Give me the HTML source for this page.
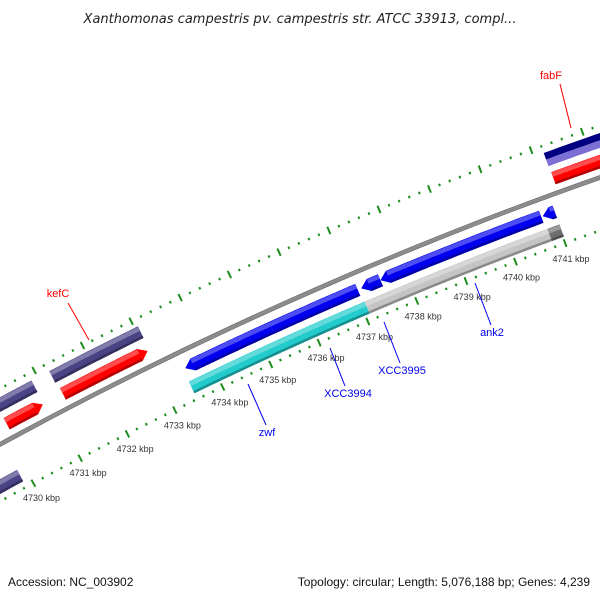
<!DOCTYPE html>
<html><head><meta charset="utf-8"><style>
body{margin:0;background:#fff;}
svg{display:block;font-family:"Liberation Sans",sans-serif;}
</style></head><body>
<svg width="600" height="600" viewBox="0 0 600 600">
<rect width="600" height="600" fill="#fff"/>
<text x="300" y="23" text-anchor="middle" font-size="13" font-style="italic" fill="#222" style="font-family:'DejaVu Sans',sans-serif">Xanthomonas campestris pv. campestris str. ATCC 33913, compl...</text>
<g id="layer"></g>
<text x="8" y="586" font-size="12" fill="#111">Accession: NC_003902</text>
<text x="590" y="586" text-anchor="end" font-size="12" fill="#111">Topology: circular; Length: 5,076,188 bp; Genes: 4,239</text>
</svg>
<script>
// geometry (not data)
const CX = 1951, CY = 4022;
const A0 = -2.0542, K0 = 4731, DA = 0.01319;
// ---- data ----
const tickStart = 4729, tickEnd = 4743;
const tickLabels = [4730,4731,4732,4733,4734,4735,4736,4737,4738,4739,4740,4741];
// features: lane, start kbp, end kbp, strand(1 fwd,-1 rev,0 none), color
const featLane  = ['o2','o1','o2','o1','o1','i1','i1','i1','i1','i1','i2','i2','i2','i2','i2'];
const featStart = [4729.4,4730.09,4731.24,4731.27,4741.21,4733.52,4735.3,4737.13,4737.52,4740.78,4733.47,4737.09,4737.5,4740.78,4729.3];
const featEnd   = [4730.87,4730.85,4733.07,4733.03,4743.5,4735.3,4737.06,4737.52,4740.75,4741.02,4737.09,4737.5,4740.78,4741.02,4729.85];
const featDir   = [0,1,0,1,1,-1,0,-1,-1,-1,0,0,0,0,0];
const featColor = ['#4a4385','#ff0000','#4a4385','#ff0000','#ff0000','#0000ee','#0000ee','#0000ee','#0000ee','#0000ee','#22cccc','#c4c4c4','#c4c4c4','#6e6e6e','#4a4385'];
const featNames = ['feature-purple-1','feature-red-1','feature-purple-kefc','feature-red-kefc','feature-red-fabf','feature-blue-zwf','feature-blue-2','feature-blue-xcc3995','feature-blue-ank2','feature-blue-small','feature-cyan-xcc3994','feature-gray-1','feature-gray-2','feature-darkgray','feature-purple-inner'];
// ---- drawing ----
const NS = 'http://www.w3.org/2000/svg';
const layer = document.getElementById('layer');
const laneR = {o2:4110, o1:4090, i1:4058, i2:4038};
const HW = 6.5;
function ang(k){ return A0 + (k - K0) * DA; }
function pt(k, r){ const a = ang(k); return [CX + r*Math.cos(a), CY + r*Math.sin(a)]; }
function mk(tag, attrs){ const e = document.createElementNS(NS, tag); for (const k in attrs) e.setAttribute(k, attrs[k]); return e; }
function band(k1, k2, r1, r2){
  const p = []; const n = 30;
  for (let i=0;i<=n;i++) p.push(pt(k1+(k2-k1)*i/n, r2));
  for (let i=n;i>=0;i--) p.push(pt(k1+(k2-k1)*i/n, r1));
  return p.map(q=>q[0].toFixed(1)+','+q[1].toFixed(1)).join(' ');
}
function shade(c, f){
  const n = parseInt(c.slice(1),16); let r=n>>16,g=(n>>8)&255,b=n&255;
  if (f>0){ r=r+(255-r)*f; g=g+(255-g)*f; b=b+(255-b)*f; } else { r*=1+f; g*=1+f; b*=1+f; }
  return 'rgb('+Math.round(r)+','+Math.round(g)+','+Math.round(b)+')';
}
// backbone
const bb = mk('polygon', {points: band(tickStart, tickEnd, 4073, 4077), fill:'#8c8c8c', stroke:'#6a6a6a', 'stroke-width':'0.6'});


layer.appendChild(bb);
// features
const HEAD = 0.16;
for (let i=0;i<featStart.length;i++){
  const r = laneR[featLane[i]], s = featStart[i], e = featEnd[i], d = featDir[i], c = featColor[i];
  const g = mk('g', {});
  
  
  let pts;
  if (d === 0){ pts = band(s, e, r-HW, r+HW); }
  else {
    const bs = d>0 ? s : s+HEAD, be = d>0 ? e-HEAD : e;
    const body = []; const n=30;
    for (let j=0;j<=n;j++) body.push(pt(bs+(be-bs)*j/n, r+HW));
    if (d>0) body.push(pt(e, r));
    for (let j=n;j>=0;j--) body.push(pt(bs+(be-bs)*j/n, r-HW));
    if (d<0) body.push(pt(s, r));
    pts = body.map(q=>q[0].toFixed(1)+','+q[1].toFixed(1)).join(' ');
  }
  g.appendChild(mk('polygon', {points: pts, fill: c}));
  const hs = d<0 ? s+HEAD : s, he = d>0 ? e-HEAD : e;
  g.appendChild(mk('polygon', {points: band(hs, he, r+1.5, r+HW-0.5), fill: shade(c, 0.3)}));
  g.appendChild(mk('polygon', {points: band(hs, he, r-HW, r-HW+2.5), fill: shade(c, -0.3)}));
  layer.appendChild(g);
}
// fabF two-tone overlay in purple lane
const nv = mk('g', {});


nv.appendChild(mk('polygon', {points: band(4741.2, 4743.5, 4110, 4117), fill:'#000080'}));
nv.appendChild(mk('polygon', {points: band(4741.2, 4743.5, 4103, 4110), fill:'#7b6fd6'}));
layer.appendChild(nv);
// ticks (centered on ring)
function ticks(rBase, name){
  const g = mk('g', {stroke:'#1e8c1e', 'stroke-width':'2'});
  
  
  for (let t=Math.round(tickStart*5); t<=tickEnd*5; t++){
    const k = t/5, major = t%5===0;
    const len = major ? 8 : 2.5;
    const a = pt(k, rBase - len/2), b = pt(k, rBase + len/2);
    g.appendChild(mk('line', {x1:a[0].toFixed(1), y1:a[1].toFixed(1), x2:b[0].toFixed(1), y2:b[1].toFixed(1)}));
  }
  layer.appendChild(g);
}
ticks(4124, 'outer-tick-ring');
ticks(4025, 'inner-tick-ring');
for (let i=0;i<tickLabels.length;i++){
  const p = pt(tickLabels[i], 4008);
  const t = mk('text', {x:p[0].toFixed(1), y:(p[1]+3).toFixed(1), 'text-anchor':'middle', 'font-size':'9', fill:'#333'});
  t.textContent = tickLabels[i] + ' kbp';
  
  
  layer.appendChild(t);
}
// gene labels
const labText = ['kefC','zwf','XCC3994','XCC3995','ank2','fabF'];
const labColor = ['#ff0000','#0000ee','#0000ee','#0000ee','#0000ee','#ff0000'];
const labXY = [[58,297],[267,436],[348,397],[402,374],[492,336],[551,79]];
const labLine = [[68,303,89,340],[248,384,266,425],[330,348,345,386],[384,322,400,363],[475,283,491,325],[560,84,571,128]];
for (let i=0;i<labText.length;i++){
  const l = labLine[i];
  const ln = mk('line', {x1:l[0], y1:l[1], x2:l[2], y2:l[3], stroke:labColor[i], 'stroke-width':'1'});
  
  
  layer.appendChild(ln);
  const t = mk('text', {x:labXY[i][0], y:labXY[i][1], 'text-anchor':'middle', 'font-size':'11', fill:labColor[i]});
  t.textContent = labText[i];
  
  
  layer.appendChild(t);
}
</script>
</body></html>
